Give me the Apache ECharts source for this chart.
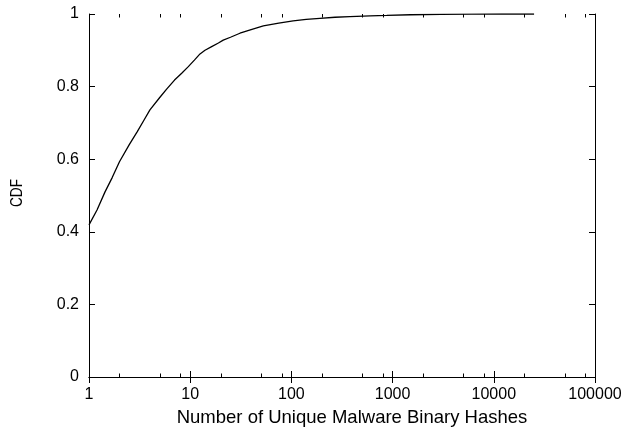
<!DOCTYPE html>
<html>
<head>
<meta charset="utf-8">
<script src="https://cdn.jsdelivr.net/npm/echarts@6/dist/echarts.min.js"></script>
<style>
html,body{margin:0;padding:0;background:#fff;}
#chart{width:628px;height:429px;}
</style>
</head>
<body>
<div id="chart"></div>
<script>
var hashCounts = [1, 1.2, 1.44, 1.7, 2, 2.5, 3, 3.5, 4, 5, 5.85, 7, 8.24, 9.58, 11, 12.5, 14, 16.3, 19, 21.2, 25, 31, 40, 52.8, 75, 104, 140, 191, 270, 378, 600, 875, 1500, 3000, 6000, 12000, 25000];
var cdfValues  = [0.419, 0.46, 0.51, 0.55, 0.593, 0.64, 0.676, 0.708, 0.736, 0.77, 0.793, 0.818, 0.837, 0.855, 0.873, 0.89, 0.90, 0.91, 0.92, 0.928, 0.936, 0.947, 0.957, 0.967, 0.975, 0.981, 0.985, 0.988, 0.991, 0.993, 0.995, 0.996, 0.998, 0.999, 0.9995, 1.0, 1.0];
var minorTickValues = [2, 5, 8, 20, 50, 80, 200, 500, 800, 2000, 5000, 8000, 20000, 50000, 80000];
var xName = 'Number of Unique Malware Binary Hashes';
var yName = 'CDF';

var FONT = 'Liberation Sans, Arial, sans-serif';
var chart = echarts.init(document.getElementById('chart'));
var lineData = hashCounts.map(function (x, i) { return [x, cdfValues[i]]; });

var axisLineStyle = { show: true, lineStyle: { color: '#000', width: 1 } };
var tickStyle = { show: true, inside: true, length: 6, lineStyle: { color: '#000', width: 1 } };
var labelStyle = { color: '#000', fontFamily: FONT, fontSize: 16 };

chart.setOption({
  animation: false,
  backgroundColor: '#fff',
  grid: { left: 89, right: 33, top: 14, bottom: 52, containLabel: false, outerBoundsMode: 'none' },
  xAxis: [{
    type: 'log', logBase: 10, min: 1, max: 100000, position: 'bottom',
    name: xName, nameLocation: 'middle', nameGap: 31,
    nameTextStyle: { color: '#000', fontFamily: FONT, fontSize: 18.5, padding: [0, 0, 0, 20] },
    axisLine: axisLineStyle,
    axisTick: tickStyle,
    axisLabel: Object.assign({ margin: 10, formatter: function (v) { return String(Math.round(v)); } }, labelStyle),
    splitLine: { show: false }
  }, {
    type: 'log', logBase: 10, min: 1, max: 100000, position: 'top',
    axisLine: axisLineStyle,
    axisTick: tickStyle,
    axisLabel: { show: false },
    splitLine: { show: false }
  }],
  yAxis: [{
    type: 'value', min: 0, max: 1, interval: 0.2, position: 'left',
    axisLine: axisLineStyle,
    axisTick: tickStyle,
    axisLabel: Object.assign({ margin: 10, formatter: function (v) { return String(+v.toFixed(1)); } }, labelStyle),
    splitLine: { show: false }
  }, {
    type: 'value', min: 0, max: 1, interval: 0.2, position: 'right',
    axisLine: axisLineStyle,
    axisTick: tickStyle,
    axisLabel: { show: false },
    splitLine: { show: false }
  }],
  series: [{
    type: 'line',
    data: lineData,
    showSymbol: false,
    symbol: 'none',
    smooth: false,
    lineStyle: { color: '#000', width: 1.3 },
    z: 3
  }]
});

// y-axis title (narrow, rotated) and minor log ticks at 2, 5, 8 per decade
var elements = [{
  type: 'text',
  x: 18, y: 193,
  rotation: Math.PI / 2,
  scaleX: 0.85, scaleY: 1,
  style: { text: yName, font: '16px ' + FONT, fill: '#000', align: 'center', verticalAlign: 'middle' },
  silent: true
}];
minorTickValues.forEach(function (v) {
  var b = chart.convertToPixel({ gridIndex: 0 }, [v, 0]);
  var t = chart.convertToPixel({ gridIndex: 0 }, [v, 1]);
  var px = Math.round(b[0]) + 0.5;
  elements.push({ type: 'line', shape: { x1: px, y1: b[1], x2: px, y2: b[1] - 3.5 }, style: { stroke: '#000', lineWidth: 1 }, silent: true, z: 10 });
  elements.push({ type: 'line', shape: { x1: px, y1: t[1], x2: px, y2: t[1] + 3.5 }, style: { stroke: '#000', lineWidth: 1 }, silent: true, z: 10 });
});
chart.setOption({ graphic: { elements: elements } });
</script>
</body>
</html>
